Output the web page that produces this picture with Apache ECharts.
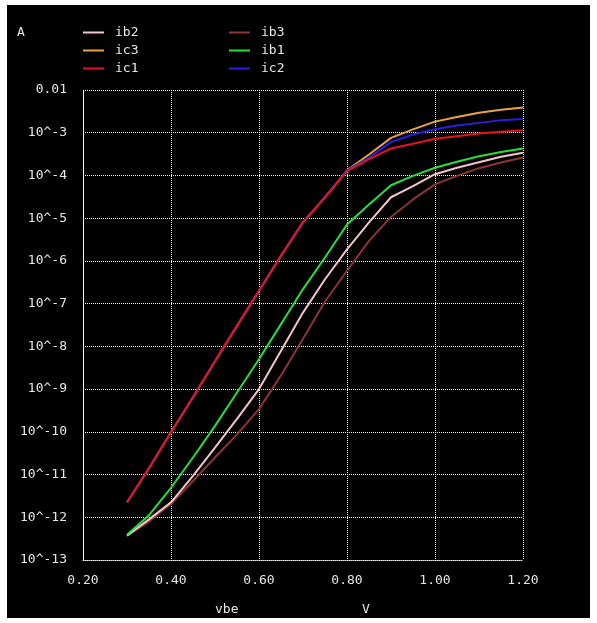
<!DOCTYPE html>
<html>
<head>
<meta charset="utf-8">
<script src="https://cdn.jsdelivr.net/npm/echarts@6/dist/echarts.min.js"></script>
<style>
html,body{margin:0;padding:0;background:#fff;width:597px;height:623px;overflow:hidden;}
#chart{position:absolute;left:7px;top:5px;width:583px;height:613px;background:#000;}
</style>
</head>
<body>
<div id="chart"></div>
<script>
var vbe = [0.30,0.35,0.40,0.45,0.50,0.55,0.60,0.65,0.70,0.75,0.80,0.85,0.90,0.95,1.00,1.05,1.10,1.15,1.20];
var ic1 = [2.24e-12,1.41e-11,9.8e-11,6.46e-10,4.47e-9,3.02e-8,2.0e-7,1.32e-6,7.94e-6,3.02e-5,1.26e-4,2.40e-4,4.27e-4,5.50e-4,7.24e-4,8.32e-4,9.55e-4,1.05e-3,1.15e-3];
var ic2 = [2.24e-12,1.41e-11,9.8e-11,6.46e-10,4.47e-9,3.02e-8,2.0e-7,1.32e-6,8.1e-6,3.1e-5,1.32e-4,2.63e-4,6.03e-4,9.12e-4,1.20e-3,1.48e-3,1.70e-3,1.95e-3,2.09e-3];
var ic3 = [2.24e-12,1.41e-11,9.8e-11,6.46e-10,4.47e-9,3.02e-8,2.0e-7,1.32e-6,8.1e-6,3.1e-5,1.32e-4,3.09e-4,7.59e-4,1.20e-3,1.82e-3,2.34e-3,2.95e-3,3.47e-3,3.89e-3];
var ib1 = [3.89e-13,1.12e-12,4.90e-12,2.51e-11,1.38e-10,8.32e-10,5.01e-9,3.31e-8,2.19e-7,1.20e-6,7.08e-6,2.09e-5,5.89e-5,9.77e-5,1.51e-4,2.09e-4,2.82e-4,3.55e-4,4.27e-4];
var ib2 = [3.72e-13,8.91e-13,2.24e-12,9.33e-12,4.27e-11,2.0e-10,1.0e-9,7.94e-9,6.17e-8,3.72e-7,1.86e-6,7.94e-6,3.09e-5,5.62e-5,1.07e-4,1.51e-4,2.04e-4,2.75e-4,3.39e-4];
var ib3 = [3.72e-13,7.94e-13,2.04e-12,7.08e-12,2.51e-11,8.71e-11,3.39e-10,2.09e-9,1.51e-8,1.12e-7,5.89e-7,2.95e-6,1.07e-5,2.75e-5,6.17e-5,9.77e-5,1.48e-4,2.0e-4,2.63e-4];
var legendCol1 = ['ib2','ic3','ic1'];
var legendCol2 = ['ib3','ib1','ic2'];
var yTickLabels = {'-2':'0.01','-3':'10^-3','-4':'10^-4','-5':'10^-5','-6':'10^-6','-7':'10^-7','-8':'10^-8','-9':'10^-9','-10':'10^-10','-11':'10^-11','-12':'10^-12','-13':'10^-13'};

var font = 'DejaVu Sans Mono';
var txtColor = '#e6e6e6';
var gridColor = '#f2f2f2';
function pairs(ys){ return vbe.map(function(x,i){return [x, ys[i]];}); }
var seriesDefs = [
  {name:'ib3', data:ib3, color:'#8e3434'},
  {name:'ib2', data:ib2, color:'#f4c4cc'},
  {name:'ib1', data:ib1, color:'#22e040'},
  {name:'ic3', data:ic3, color:'#e9a444'},
  {name:'ic2', data:ic2, color:'#2a1ee0'},
  {name:'ic1', data:ic1, color:'#e8121e'}
];
var series = seriesDefs.map(function(s){
  return {name:s.name, type:'line', data:pairs(s.data), showSymbol:false, symbol:'none',
    lineStyle:{color:s.color, width:2}, itemStyle:{color:s.color}, animation:false};
});
var legendBase = {orient:'vertical', icon:'rect', itemWidth:21, itemHeight:2, itemGap:3,
  selectedMode:false, textStyle:{color:txtColor, fontFamily:font, fontSize:13, lineHeight:15, padding:[0,0,0,6]}};
var chart = echarts.init(document.getElementById('chart'), null, {renderer:'canvas'});
chart.setOption({
  backgroundColor:'#000',
  animation:false,
  grid:{left:76, top:85, width:440, height:470, containLabel:false},
  legend:[
    Object.assign({}, legendBase, {data:legendCol1, left:71, top:15}),
    Object.assign({}, legendBase, {data:legendCol2, left:217, top:15})
  ],
  xAxis:{type:'value', min:0.2, max:1.2, interval:0.2,
    axisLine:{show:true, lineStyle:{color:gridColor, type:[1,1], width:1}},
    axisTick:{show:false},
    splitLine:{show:true, lineStyle:{color:gridColor, type:[1,1], width:1}},
    axisLabel:{color:txtColor, fontFamily:font, fontSize:13, margin:14, formatter:function(v){return v.toFixed(2);}}
  },
  yAxis:{type:'log', logBase:10, min:1e-13, max:1e-2, interval:1,
    axisLine:{show:true, lineStyle:{color:gridColor, type:[1,1], width:1}},
    axisTick:{show:false},
    splitLine:{show:true, lineStyle:{color:gridColor, type:[1,1], width:1}},
    axisLabel:{color:txtColor, fontFamily:font, fontSize:13, margin:16,
      formatter:function(v){ var e = Math.round(Math.log10(v)); return yTickLabels[String(e)] || ''; }}
  },
  graphic:[
    {type:'text', left:10, top:21, style:{text:'A', fill:txtColor, font:'13px "DejaVu Sans Mono"'}},
    {type:'text', left:208, top:598, style:{text:'vbe', fill:txtColor, font:'13px "DejaVu Sans Mono"'}},
    {type:'text', left:355, top:598, style:{text:'V', fill:txtColor, font:'13px "DejaVu Sans Mono"'}}
  ],
  series:series
});
</script>
</body>
</html>
